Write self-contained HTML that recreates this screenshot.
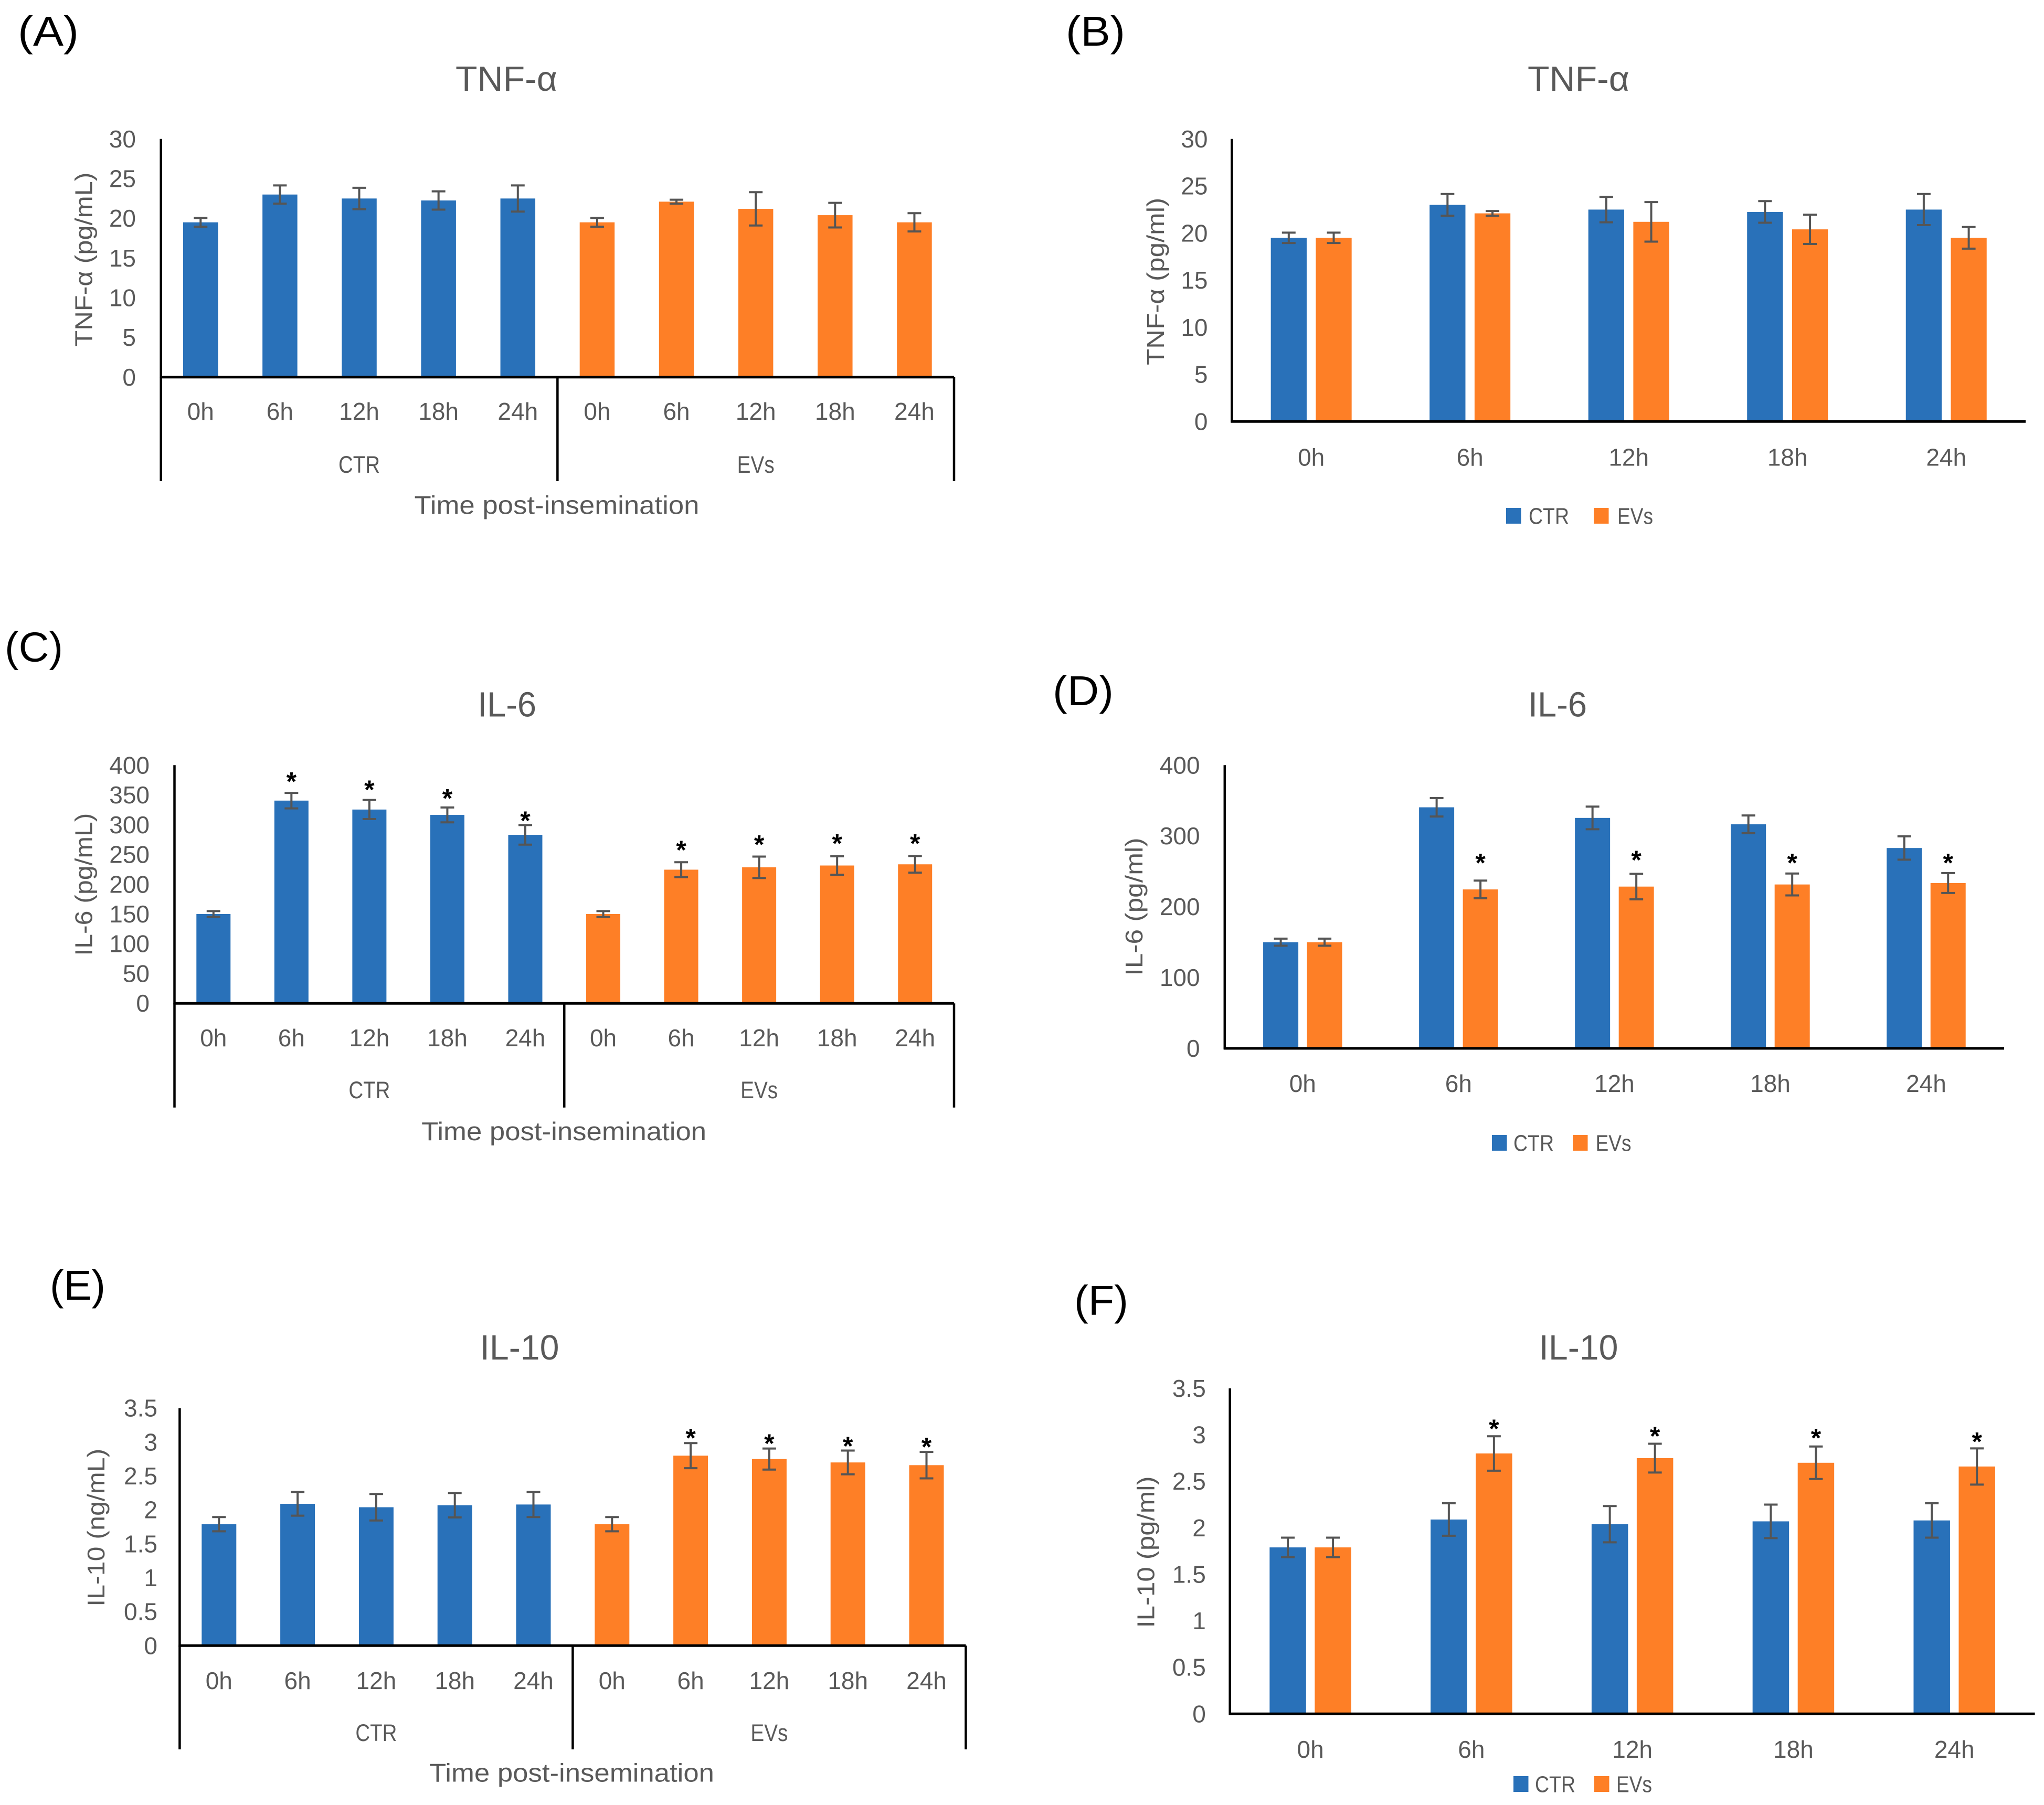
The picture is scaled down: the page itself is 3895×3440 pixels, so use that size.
<!DOCTYPE html>
<html lang="en">
<head>
<meta charset="utf-8">
<title>Cytokine concentrations post-insemination</title>
<style>
html,body{margin:0;padding:0;background:#fff;width:3895px;height:3440px;overflow:hidden}
svg{display:block}
text{font-family:"Liberation Sans",sans-serif}
</style>
</head>
<body>
<svg id="figure" xmlns="http://www.w3.org/2000/svg" width="3895" height="3440" viewBox="0 0 3895 3440"></svg>
<script>
// ---- Data ----
const times = ['0h', '6h', '12h', '18h', '24h'];
const groups = ['CTR', 'EVs'];

const tnfTicks = [0, 5, 10, 15, 20, 25, 30];
const il6TicksFine = [0, 50, 100, 150, 200, 250, 300, 350, 400];
const il6TicksCoarse = [0, 100, 200, 300, 400];
const il10Ticks = [0, 0.5, 1, 1.5, 2, 2.5, 3, 3.5];

const tnfCtr = [19.5, 23.0, 22.5, 22.25, 22.5];
const tnfEvs = [19.5, 22.1, 21.2, 20.4, 19.5];
const tnfCtrErr = [0.55, 1.15, 1.35, 1.15, 1.65];
const tnfEvsErr = [0.55, 0.25, 2.1, 1.55, 1.15];

const il6Ctr = [150, 340.5, 325.5, 316.5, 283];
const il6Evs = [150, 224.5, 228.5, 231.5, 233.5];
const il6CtrErr = [5, 13, 16, 12.5, 16.5];
const il6EvsErr = [5, 12.5, 18, 15.5, 14];

const il10Ctr = [1.79, 2.09, 2.04, 2.07, 2.08];
const il10Evs = [1.79, 2.80, 2.75, 2.70, 2.66];
const il10CtrErr = [0.105, 0.175, 0.195, 0.18, 0.185];
const il10EvsErr = [0.105, 0.185, 0.155, 0.175, 0.195];

// Height (in axis units) of the significance asterisks; null = no asterisk
const starsCCtr = [null, 383.8, 370.5, 355.7, 318.5];
const starsCEvs = [null, 269, 278, 279.8, 279.8];
const starsDEvs = [null, 271.8, 275.8, 271.8, 271.8];
const starsEEvs = [null, 3.163, 3.08, 3.04, 3.03];
const starsFEvs = [null, 3.14, 3.06, 3.04, 3.0];

// ---- Drawing ----
const NS = 'http://www.w3.org/2000/svg';
const root = document.getElementById('figure');
const BLUE = '#2971b9';
const ORANGE = '#fe7f26';
const GREY = '#595959';

function mk(parent, tag, attrs) {
  const el = document.createElementNS(NS, tag);
  for (const k in attrs) el.setAttribute(k, attrs[k]);
  parent.appendChild(el);
  return el;
}

function label(parent, str, name, x, y, size, fill, width, anchor, rot) {
  const attrs = { x: x, y: y, 'font-size': size, fill: fill, 'text-anchor': anchor || 'middle' };
  if (width) {
    attrs.textLength = width;
    attrs.lengthAdjust = 'spacingAndGlyphs';
  }
  if (rot) attrs.transform = 'rotate(' + rot + ' ' + x + ' ' + y + ')';
  const el = mk(parent, 'text', attrs);
  el.textContent = str;
  
  
  return el;
}

function line(parent, x1, y1, x2, y2, stroke, w, name) {
  const el = mk(parent, 'line', { x1: x1, y1: y1, x2: x2, y2: y2, stroke: stroke, 'stroke-width': w });
  
  
  return el;
}

function drawMark(g, name, color, cx, w, value, err, star, y, base) {
  const bar = mk(g, 'rect', { x: cx - w / 2, y: y(value), width: w, height: base - y(value), fill: color });
  
  
  const hi = y(value + err), lo = y(value - err);
  const eb = mk(g, 'g', { stroke: '#555', 'stroke-width': 4 });
  
  
  mk(eb, 'line', { x1: cx, y1: hi, x2: cx, y2: lo });
  mk(eb, 'line', { x1: cx - 13, y1: hi, x2: cx + 13, y2: hi });
  mk(eb, 'line', { x1: cx - 13, y1: lo, x2: cx + 13, y2: lo });
  if (star !== null && star !== undefined) {
    const s = mk(g, 'text', { x: cx, y: y(star) + 30, 'font-size': 50, 'font-weight': 'bold', fill: '#000', 'text-anchor': 'middle' });
    s.textContent = '*';
    
    
  }
}

function drawPanel(p) {
  const g = mk(root, 'g', {});
  
  
  const max = p.ticks[p.ticks.length - 1];
  const y = v => p.base - (v / max) * (p.base - p.top);

  label(g, '(' + p.id.toUpperCase() + ')', 'panel-label', p.lx, p.ly, 80, '#000', p.lw, 'start');
  label(g, p.title, 'chart-title', p.tx, p.ty + 24, 67, GREY, p.tw);
  label(g, p.yTitle, 'y-axis-title', p.ytx + 16, p.yty, 46, GREY, p.ytw, 'middle', -90);

  p.ticks.forEach(t => {
    label(g, String(t), 'y-tick-label', p.tickRight, y(t) + 16, 46, GREY, null, 'end');
  });

  const stars1 = p.stars1 || [];
  const stars2 = p.stars2 || [];

  if (p.mode === 'split') {
    const cw = (p.right - p.x0) / 10;
    [[p.s1, p.e1, stars1, BLUE], [p.s2, p.e2, stars2, ORANGE]].forEach((s, gi) => {
      times.forEach((t, i) => {
        const cx = p.x0 + cw * (gi * 5 + i + 0.5);
        drawMark(g, groups[gi] + '-' + t, s[3], cx, p.bw, s[0][i], s[1][i], s[2][i], y, p.base);
        label(g, t, 'x-tick-label', cx, p.catY + 16, 46, GREY);
      });
      const gx = p.x0 + cw * (gi * 5 + 2.5);
      label(g, groups[gi], 'group-label', gx, p.groupY + 16, 45, GREY, gi ? 71 : 79);
    });
    line(g, p.x0, p.base, p.x0, p.tickEnd, '#000', 4.5, 'group-divider-left');
    line(g, p.x0 + cw * 5, p.base, p.x0 + cw * 5, p.tickEnd, '#000', 4.5, 'group-divider-middle');
    line(g, p.right, p.base, p.right, p.tickEnd, '#000', 4.5, 'group-divider-right');
    label(g, 'Time post-insemination', 'x-axis-title', p.xtx, p.xty + 16, 49, GREY, 543);
  } else {
    const cw = (p.right - p.x0) / 5;
    times.forEach((t, i) => {
      const c = p.x0 + cw * (i + 0.5);
      drawMark(g, 'CTR-' + t, BLUE, c - (p.gap + p.bw) / 2, p.bw, p.s1[i], p.e1[i], stars1[i], y, p.base);
      drawMark(g, 'EVs-' + t, ORANGE, c + (p.gap + p.bw) / 2, p.bw, p.s2[i], p.e2[i], stars2[i], y, p.base);
      label(g, t, 'x-tick-label', c, p.catY + 16, 46, GREY);
    });
    const lg = mk(g, 'g', {});
    
    
    const a = mk(lg, 'rect', { x: p.leg[0], y: p.legY, width: 28.5, height: 30, fill: BLUE });
    
    
    label(lg, groups[0], 'legend-label-ctr', p.leg[1], p.legY + 30.5, 44, GREY, 77, 'start');
    const b = mk(lg, 'rect', { x: p.leg[2], y: p.legY, width: 28.5, height: 30, fill: ORANGE });
    
    
    label(lg, groups[1], 'legend-label-evs', p.leg[3], p.legY + 30.5, 44, GREY, 68, 'start');
  }
  line(g, p.x0, p.top, p.x0, p.base + 2, '#000', 4.5, 'y-axis-line');
  line(g, p.x0 - 2, p.base, p.right, p.base, '#000', 5, 'x-axis-line');
}

drawPanel({ id: 'a', mode: 'split', title: 'TNF-α', yTitle: 'TNF-α (pg/mL)', ticks: tnfTicks,
  s1: tnfCtr, s2: tnfEvs, e1: tnfCtrErr, e2: tnfEvsErr,
  x0: 306.7, right: 1818, top: 264.8, base: 718.8, bw: 66.5, tickEnd: 917, tickRight: 259,
  lx: 34, ly: 87, lw: 116, tx: 965, ty: 149, tw: 194, ytx: 159.4, yty: 494.5, ytw: 332,
  catY: 784, groupY: 885, xtx: 1061, xty: 963.5 });

drawPanel({ id: 'b', mode: 'pair', title: 'TNF-α', yTitle: 'TNF-α (pg/ml)', ticks: tnfTicks,
  s1: tnfCtr, s2: tnfEvs, e1: tnfCtrErr, e2: tnfEvsErr,
  x0: 2347.4, right: 3860, top: 264.8, base: 803.3, bw: 68.3, gap: 17.4, tickRight: 2301.5,
  lx: 2031, ly: 87, lw: 113, tx: 3008, ty: 149, tw: 194, ytx: 2202, yty: 536.4, ytw: 319,
  catY: 871.6, leg: [2870, 2913, 3037, 3082], legY: 968 });

drawPanel({ id: 'c', mode: 'split', title: 'IL-6', yTitle: 'IL-6 (pg/mL)', ticks: il6TicksFine,
  s1: il6Ctr, s2: il6Evs, e1: il6CtrErr, e2: il6EvsErr, stars1: starsCCtr, stars2: starsCEvs,
  x0: 332.5, right: 1818, top: 1458.3, base: 1912.2, bw: 65, tickEnd: 2110.7, tickRight: 285,
  lx: 9, ly: 1260.5, lw: 111, tx: 966, ty: 1341.6, tw: 112, ytx: 159.4, yty: 1685.6, ytw: 272,
  catY: 1978, groupY: 2077, xtx: 1074.6, xty: 2157 });

drawPanel({ id: 'd', mode: 'pair', title: 'IL-6', yTitle: 'IL-6 (pg/ml)', ticks: il6TicksCoarse,
  s1: il6Ctr, s2: il6Evs, e1: il6CtrErr, e2: il6EvsErr, stars2: starsDEvs,
  x0: 2333.8, right: 3819, top: 1458.3, base: 1998, bw: 67, gap: 16.5, tickRight: 2286.6,
  lx: 2006, ly: 1344, lw: 116, tx: 2968, ty: 1341.6, tw: 112, ytx: 2161, yty: 1728, ytw: 263,
  catY: 2065, leg: [2843, 2884, 2997, 3040.5], legY: 2163 });

drawPanel({ id: 'e', mode: 'split', title: 'IL-10', yTitle: 'IL-10 (ng/mL)', ticks: il10Ticks,
  s1: il10Ctr, s2: il10Evs, e1: il10CtrErr, e2: il10EvsErr, stars2: starsEEvs,
  x0: 342.4, right: 1840.4, top: 2683.7, base: 3136.3, bw: 66, tickEnd: 3334, tickRight: 300,
  lx: 95, ly: 2477, lw: 106, tx: 990, ty: 2567, tw: 151, ytx: 183, yty: 2911.3, ytw: 301,
  catY: 3203, groupY: 3302, xtx: 1089.5, xty: 3379.6 });

drawPanel({ id: 'f', mode: 'pair', title: 'IL-10', yTitle: 'IL-10 (pg/ml)', ticks: il10Ticks,
  s1: il10Ctr, s2: il10Evs, e1: il10CtrErr, e2: il10EvsErr, stars2: starsFEvs,
  x0: 2343.7, right: 3877.6, top: 2646, base: 3266.3, bw: 69.5, gap: 16.5, tickRight: 2297.8,
  lx: 2047, ly: 2506, lw: 103, tx: 3008, ty: 2567, tw: 151, ytx: 2183.5, yty: 2958, ytw: 289,
  catY: 3334, leg: [2884, 2925, 3038, 3080], legY: 3385 });
</script>
</body>
</html>
